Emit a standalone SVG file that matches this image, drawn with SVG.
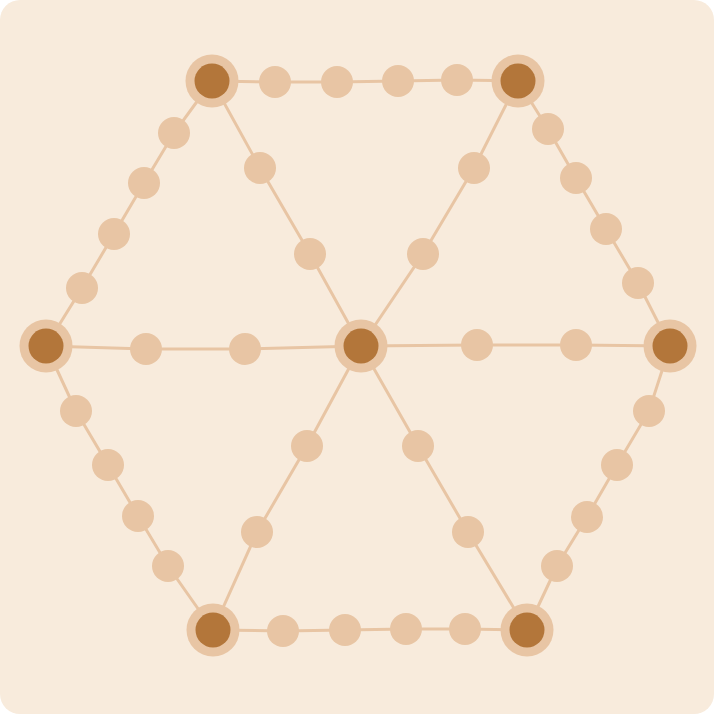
<svg xmlns="http://www.w3.org/2000/svg" width="714" height="714" viewBox="0 0 714 714">
<style>
.e{stroke:#e8c5a4;stroke-width:3;fill:none}
.s{fill:#e8c5a4}
.h{fill:#e8c5a4}
.c{fill:#b3763a}
</style>
<rect x="0" y="0" width="714" height="714" rx="20" fill="#f8ebdc"/>
<g id="connectors">
<polyline class="e" points="212,81 275,82 337,82 398,81 457,80 518,81"/>
<polyline class="e" points="213,630 283,631 345,630 406,629 465,629 527,630"/>
<polyline class="e" points="212,81 174,133 144,183 114,234 82,288 46,346"/>
<polyline class="e" points="46,346 76,411 108,465 138,516 168,566 213,630"/>
<polyline class="e" points="518,81 548,129 576,178 606,229 638,283 670,346"/>
<polyline class="e" points="670,346 649,411 617,465 587,517 557,566 527,630"/>
<polyline class="e" points="46,346 146,349 245,349 361,346 477,345 576,345 670,346"/>
<polyline class="e" points="212,81 260,168 310,254 361,346 418,446 468,532 527,630"/>
<polyline class="e" points="518,81 474,168 423,254 361,346 307,446 257,532 213,630"/>
</g>
<g id="hubs">
<g id="n-tl"><circle class="h" cx="212" cy="81" r="26.5"/><circle class="c" cx="212" cy="81" r="17.5"/></g>
<g id="n-tr"><circle class="h" cx="518" cy="81" r="26.5"/><circle class="c" cx="518" cy="81" r="17.5"/></g>
<g id="n-l"><circle class="h" cx="46" cy="346" r="26.5"/><circle class="c" cx="46" cy="346" r="17.5"/></g>
<g id="n-c"><circle class="h" cx="361" cy="346" r="26.5"/><circle class="c" cx="361" cy="346" r="17.5"/></g>
<g id="n-r"><circle class="h" cx="670" cy="346" r="26.5"/><circle class="c" cx="670" cy="346" r="17.5"/></g>
<g id="n-bl"><circle class="h" cx="213" cy="630" r="26.5"/><circle class="c" cx="213" cy="630" r="17.5"/></g>
<g id="n-br"><circle class="h" cx="527" cy="630" r="26.5"/><circle class="c" cx="527" cy="630" r="17.5"/></g>
</g>
<g id="dots">
<g id="d1"><circle class="s" cx="275" cy="82" r="16"/></g>
<g id="d2"><circle class="s" cx="337" cy="82" r="16"/></g>
<g id="d3"><circle class="s" cx="398" cy="81" r="16"/></g>
<g id="d4"><circle class="s" cx="457" cy="80" r="16"/></g>
<g id="d5"><circle class="s" cx="283" cy="631" r="16"/></g>
<g id="d6"><circle class="s" cx="345" cy="630" r="16"/></g>
<g id="d7"><circle class="s" cx="406" cy="629" r="16"/></g>
<g id="d8"><circle class="s" cx="465" cy="629" r="16"/></g>
<g id="d9"><circle class="s" cx="174" cy="133" r="16"/></g>
<g id="d10"><circle class="s" cx="144" cy="183" r="16"/></g>
<g id="d11"><circle class="s" cx="114" cy="234" r="16"/></g>
<g id="d12"><circle class="s" cx="82" cy="288" r="16"/></g>
<g id="d13"><circle class="s" cx="76" cy="411" r="16"/></g>
<g id="d14"><circle class="s" cx="108" cy="465" r="16"/></g>
<g id="d15"><circle class="s" cx="138" cy="516" r="16"/></g>
<g id="d16"><circle class="s" cx="168" cy="566" r="16"/></g>
<g id="d17"><circle class="s" cx="548" cy="129" r="16"/></g>
<g id="d18"><circle class="s" cx="576" cy="178" r="16"/></g>
<g id="d19"><circle class="s" cx="606" cy="229" r="16"/></g>
<g id="d20"><circle class="s" cx="638" cy="283" r="16"/></g>
<g id="d21"><circle class="s" cx="649" cy="411" r="16"/></g>
<g id="d22"><circle class="s" cx="617" cy="465" r="16"/></g>
<g id="d23"><circle class="s" cx="587" cy="517" r="16"/></g>
<g id="d24"><circle class="s" cx="557" cy="566" r="16"/></g>
<g id="d25"><circle class="s" cx="146" cy="349" r="16"/></g>
<g id="d26"><circle class="s" cx="245" cy="349" r="16"/></g>
<g id="d27"><circle class="s" cx="477" cy="345" r="16"/></g>
<g id="d28"><circle class="s" cx="576" cy="345" r="16"/></g>
<g id="d29"><circle class="s" cx="260" cy="168" r="16"/></g>
<g id="d30"><circle class="s" cx="310" cy="254" r="16"/></g>
<g id="d31"><circle class="s" cx="474" cy="168" r="16"/></g>
<g id="d32"><circle class="s" cx="423" cy="254" r="16"/></g>
<g id="d33"><circle class="s" cx="307" cy="446" r="16"/></g>
<g id="d34"><circle class="s" cx="257" cy="532" r="16"/></g>
<g id="d35"><circle class="s" cx="418" cy="446" r="16"/></g>
<g id="d36"><circle class="s" cx="468" cy="532" r="16"/></g>
</g>
</svg>
